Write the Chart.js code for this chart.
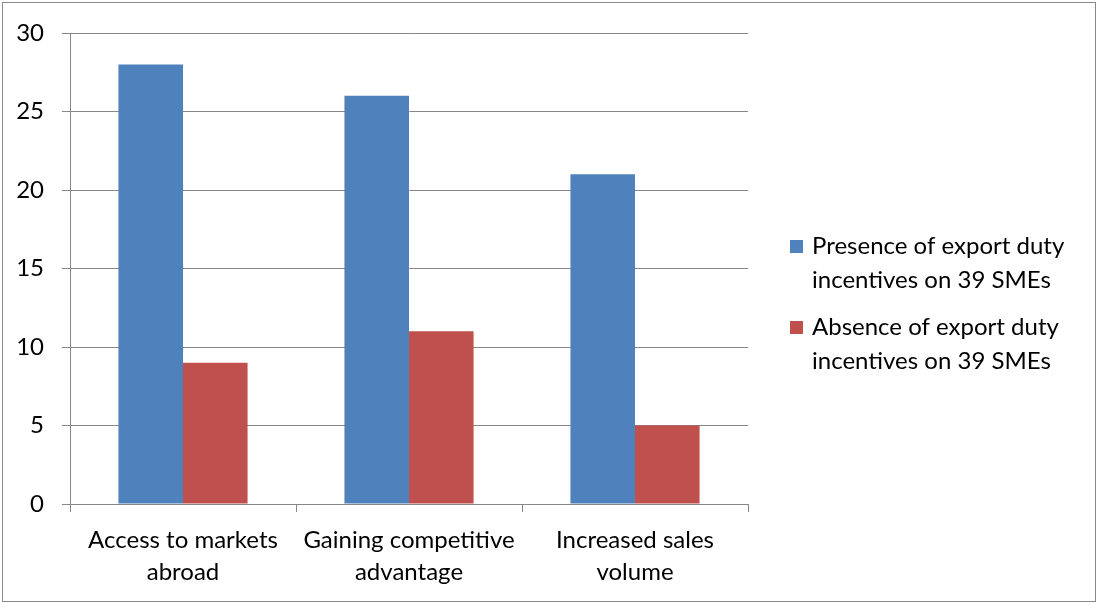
<!DOCTYPE html>
<html>
<head>
<meta charset="utf-8">
<script src="https://cdn.jsdelivr.net/npm/chart.js@4"></script>
<style>
  html, body { margin: 0; padding: 0; background: #fff; }
  #wrap { width: 1099px; height: 603px; position: relative; }
</style>
</head>
<body>
<div id="wrap"><canvas id="myChart" width="1099" height="603"></canvas></div>
<script>
// ---- Data ----
const categories = [
  ["Access to markets", "abroad"],
  ["Gaining competitive", "advantage"],
  ["Increased sales", "volume"]
];
const seriesNames = [
  ["Presence of export duty", "incentives on 39 SMEs"],
  ["Absence of export duty", "incentives on 39 SMEs"]
];
const presenceValues = [28, 26, 21];
const absenceValues  = [9, 11, 5];
const yTicks = [0, 5, 10, 15, 20, 25, 30];

const FONT = "Lato, 'Liberation Sans', sans-serif";
const FONT_SIZE = 24;
const GRID = "#878787";

// ---- Legend on the right (two-line labels) ----
const sideLegend = {
  id: "sideLegend",
  afterDraw(chart) {
    const ctx = chart.ctx;
    ctx.save();
    ctx.font = FONT_SIZE + "px " + FONT;
    ctx.textBaseline = "middle";
    ctx.textAlign = "left";
    const tops = [246, 327];
    chart.data.datasets.forEach((ds, i) => {
      const y = tops[i];
      ctx.fillStyle = ds.backgroundColor;
      ctx.fillRect(790, y - 6, 13, 13);
      ctx.fillStyle = "#000";
      seriesNames[i].forEach((line, j) => ctx.fillText(line, 812, y + j * 34));
    });
    // outer frame
    ctx.strokeStyle = "#888";
    ctx.lineWidth = 1;
    ctx.strokeRect(2.5, 2.5, 1093, 599);
    ctx.restore();
  }
};

new Chart(document.getElementById("myChart"), {
  type: "bar",
  data: {
    labels: categories,
    datasets: [
      { label: seriesNames[0].join(" "), data: presenceValues, backgroundColor: "#4F81BD" },
      { label: seriesNames[1].join(" "), data: absenceValues, backgroundColor: "#C0504D" }
    ]
  },
  options: {
    responsive: false,
    animation: false,
    events: [],
    categoryPercentage: 2 / 3.5,
    barPercentage: 1,
    layout: { padding: { top: 33, right: 351, bottom: 0, left: 0 } },
    plugins: {
      legend: { display: false },
      title: { display: false },
      tooltip: { enabled: false }
    },
    scales: {
      x: {
        grid: { display: true, drawOnChartArea: false, drawTicks: true, tickLength: 8, color: GRID, offset: true },
        border: { color: GRID },
        ticks: { color: "#000", font: { family: FONT, size: FONT_SIZE, lineHeight: 1.35 }, padding: 12, maxRotation: 0, autoSkip: false },
        afterFit(scale) { scale.height = 99; }
      },
      y: {
        min: 0,
        max: 30,
        afterBuildTicks(scale) { scale.ticks = yTicks.map(v => ({ value: v })); },
        grid: { color: GRID, tickLength: 8 },
        border: { color: GRID },
        ticks: { color: "#000", font: { family: FONT, size: FONT_SIZE }, padding: 18 },
        afterFit(scale) { scale.width = 70; }
      }
    }
  },
  plugins: [sideLegend]
});
</script>
</body>
</html>
